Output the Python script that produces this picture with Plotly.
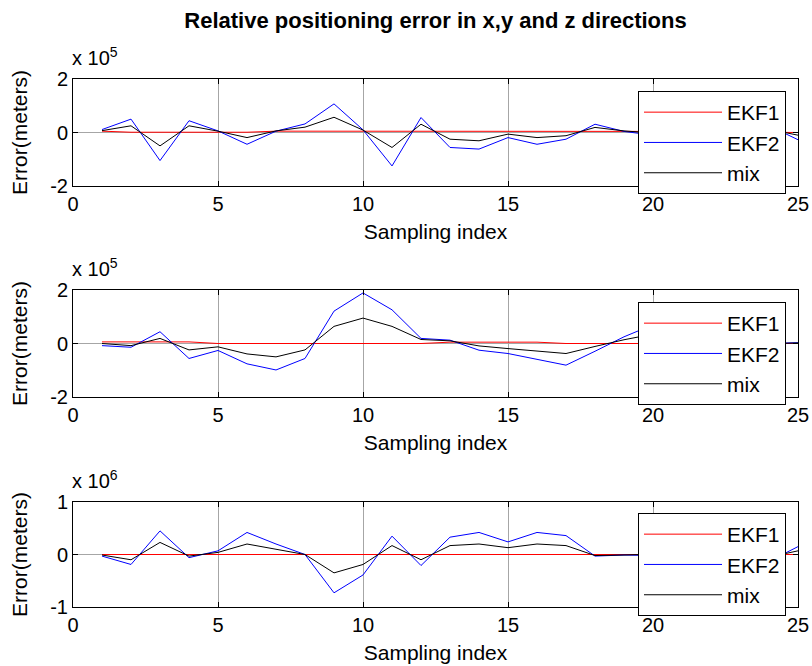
import plotly.graph_objects as go

# Sampling index
idx = list(range(1, 26))

# X direction errors (units of 1e5 m)
x_ekf1 = [0.05, 0.01, 0.01, 0.01, 0.01, 0.01, 0.05, 0.05, 0.06, 0.06, 0.06, 0.06, 0.06,
          0.06, 0.06, 0.06, 0.06, 0.06, 0.06, 0.05, 0.04, 0.03, 0.02, 0.01, 0.0]
x_ekf2 = [0.11, 0.50, -1.05, 0.44, 0.06, -0.44, 0.05, 0.32, 1.07, 0.10, -1.25, 0.56, -0.56,
          -0.62, -0.19, -0.44, -0.25, 0.31, 0.04, -0.10, 0.10, -0.20, 0.15, 0.25, -0.27]
x_mix = [0.07, 0.25, -0.50, 0.25, 0.05, -0.19, 0.06, 0.20, 0.57, 0.09, -0.56, 0.31, -0.25,
         -0.31, -0.06, -0.19, -0.12, 0.19, 0.06, -0.02, 0.05, -0.08, 0.08, 0.12, -0.10]

# Y direction errors (units of 1e5 m)
y_ekf1 = [0.06, 0.05, 0.06, 0.06, 0.0, 0.0, 0.0, 0.0, 0.0, 0.0, 0.0, 0.0, 0.05,
          0.05, 0.05, 0.05, 0.0, 0.0, 0.0, 0.0, 0.0, 0.0, 0.0, 0.0, 0.0]
y_ekf2 = [-0.08, -0.14, 0.44, -0.56, -0.26, -0.76, -0.99, -0.56, 1.21, 1.89, 1.26, 0.19, 0.125,
          -0.25, -0.375, -0.59, -0.81, -0.29, 0.25, 0.70, 0.45, 0.30, 0.15, 0.0, 0.03]
y_mix = [0.0, -0.08, 0.19, -0.24, -0.125, -0.39, -0.50, -0.24, 0.64, 0.95, 0.64, 0.15, 0.10,
         -0.09, -0.19, -0.28, -0.375, -0.11, 0.14, 0.35, 0.22, 0.15, 0.08, 0.0, 0.02]

# Z direction errors (units of 1e6 m)
z_ekf1 = [0.0] * 25
z_ekf2 = [-0.03, -0.19, 0.45, -0.06, 0.07, 0.42, 0.20, 0.0, -0.73, -0.39, 0.35, -0.21, 0.33,
          0.42, 0.24, 0.42, 0.36, -0.03, -0.01, -0.02, 0.05, -0.05, 0.03, -0.13, 0.15]
z_mix = [-0.01, -0.10, 0.23, -0.03, 0.04, 0.20, 0.10, 0.0, -0.35, -0.19, 0.17, -0.10, 0.17,
         0.20, 0.13, 0.20, 0.17, -0.02, -0.01, 0.0, 0.02, -0.02, 0.01, -0.05, 0.07]

series_names = ["EKF1", "EKF2", "mix"]
series_colors = ["#ff0000", "#0000ff", "#000000"]
panels = [
    ([x_ekf1, x_ekf2, x_mix], 2, "5"),
    ([y_ekf1, y_ekf2, y_mix], 2, "5"),
    ([z_ekf1, z_ekf2, z_mix], 1, "6"),
]

x_ticks = [0, 5, 10, 15, 20, 25]

FONT = "Liberation Sans, Arial, Helvetica, sans-serif"
W, H = 812, 666
ML, MR, MT, MB = 73, 14, 79, 59
PH = H - MT - MB
# pixel rows of each axes box (top, bottom)
boxes = [(79, 186), (290, 397), (502, 607)]
legend_tops = [91, 302, 513]

fig = go.Figure()
layout = dict(
    width=W, height=H,
    margin=dict(l=ML, r=MR, t=MT, b=MB, autoexpand=False),
    paper_bgcolor="white", plot_bgcolor="white",
    font=dict(family=FONT, size=20, color="black"),
    showlegend=True,
    title=dict(text="<b>Relative positioning error in x,y and z directions</b>",
               font=dict(family=FONT, size=22, color="black"),
               x=(ML + (W - MR)) / 2 / W, xanchor="center",
               y=1 - 20 / H, yanchor="middle", automargin=False),
)

annotations = []
for i, (vals, lim, expo) in enumerate(panels):
    n = i + 1
    sfx = "" if n == 1 else str(n)
    top, bot = boxes[i]
    dom = [1 - (bot - MT) / PH, 1 - (top - MT) / PH]
    legname = "legend" if n == 1 else f"legend{n}"
    for name, color, v in zip(series_names, series_colors, vals):
        fig.add_trace(go.Scatter(
            x=idx, y=v, mode="lines", name=name,
            line=dict(color=color, width=1),
            xaxis="x" + sfx, yaxis="y" + sfx,
            legend=legname,
        ))
    common = dict(showline=True, linecolor="black", linewidth=1, mirror="ticks",
                  ticks="inside", ticklen=5, tickcolor="black", tickwidth=1,
                  showgrid=True, gridcolor="#a6a6a6", gridwidth=1, zeroline=False,
                  automargin=False,
                  tickfont=dict(family=FONT, size=20, color="black"))
    layout["xaxis" + sfx] = dict(
        common, domain=[0, 1], range=[0, 25], tickvals=x_ticks,
        anchor="y" + sfx,
        title=dict(text="Sampling index", standoff=10,
                   font=dict(family=FONT, size=21, color="black")),
    )
    layout["yaxis" + sfx] = dict(
        common, domain=dom, range=[-lim, lim], tickvals=[-lim, 0, lim],
        ticktext=[f"-{lim}", "0", f"{lim}"], anchor="x" + sfx,
        title=dict(text="Error(meters)", standoff=16,
                   font=dict(family=FONT, size=21, color="black")),
    )
    ltop = legend_tops[i]
    layout[legname] = dict(
        x=(638 - ML) / (W - ML - MR), xanchor="left",
        y=1 - (ltop - MT) / PH, yanchor="top",
        bgcolor="white", bordercolor="black", borderwidth=1,
        font=dict(family=FONT, size=21, color="black"),
        itemwidth=78, tracegroupgap=0,
        entrywidth=140, entrywidthmode="pixels",
    )
    annotations.append(dict(
        text=f"x 10<sup>{expo}</sup>", xref="paper", yref="paper",
        x=0, xanchor="left", y=dom[1], yanchor="bottom", yshift=8, xshift=-3,
        showarrow=False, font=dict(family=FONT, size=20, color="black"),
    ))

layout["annotations"] = annotations
fig.update_layout(**layout)
fig.write_html("out.html", config={"displayModeBar": False},
               post_script="document.body.style.margin='0';")
